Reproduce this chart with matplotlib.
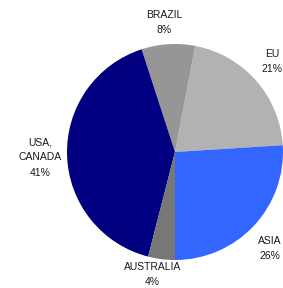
import matplotlib
matplotlib.use("Agg")
import matplotlib.pyplot as plt

categories = ["EU", "BRAZIL", "USA,\nCANADA", "AUSTRALIA", "ASIA"]
shares = [21, 8, 41, 4, 26]
colors = ["#b2b2b2", "#969696", "#000080", "#777777", "#3366ff"]
# label anchor positions (in pie-radius units)
label_pos = [(0.90, 0.84), (-0.10, 1.20), (-1.25, -0.05), (-0.21, -1.135), (0.88, -0.89)]

plt.rcParams['font.family'] = ['Liberation Sans', 'DejaVu Sans']

fig = plt.figure(figsize=(2.83, 2.88), dpi=100)
ax = fig.add_axes([0, 0, 1, 1])
R = 108.0
cx, cy = 175.0, 152.0
ax.pie(shares, colors=colors, startangle=3.6, counterclock=True, radius=1.0,
       wedgeprops=dict(linewidth=0))
ax.set_aspect('auto')
ax.set_xlim(-cx / R, (283 - cx) / R)
ax.set_ylim(-(288 - cy) / R, cy / R)
ax.axis('off')

for name, val, (x, y) in zip(categories, shares, label_pos):
    ax.text(x, y, f"{name}\n{val}%", ha='center', va='center', fontsize=7.5,
            linespacing=1.65, color='#1a1a1a')

fig.savefig("out.png", dpi=100)
